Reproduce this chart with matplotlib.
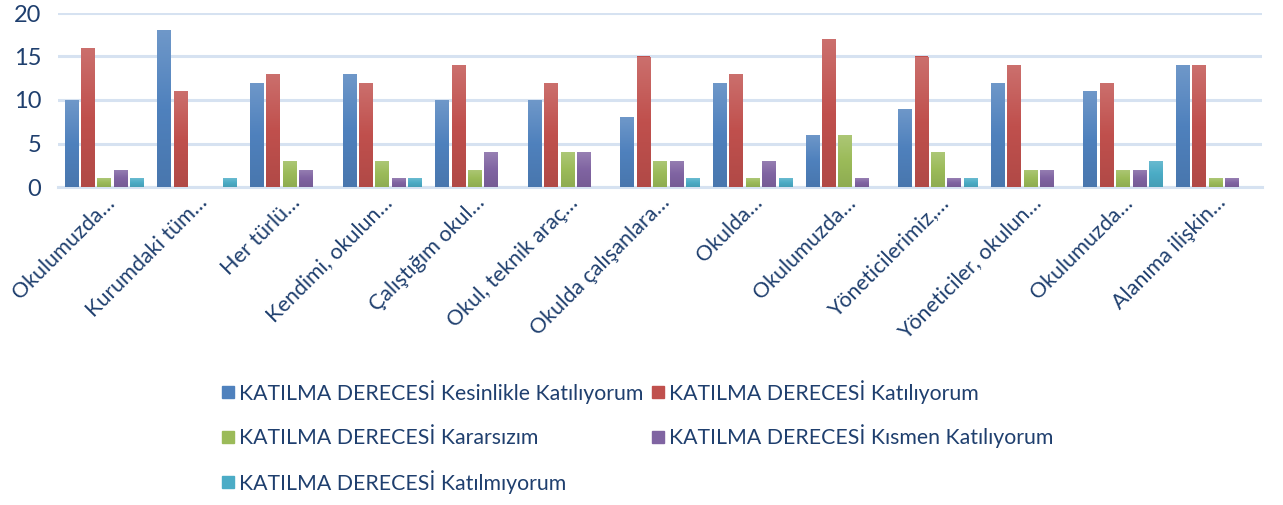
import matplotlib
matplotlib.use("Agg")
import matplotlib.pyplot as plt
from matplotlib.patches import Rectangle
from matplotlib.colors import LinearSegmentedColormap, to_rgb
import numpy as np

categories = ["Okulumuzda…", "Kurumdaki tüm…", "Her türlü…", "Kendimi, okulun…",
              "Çalıştığım okul…", "Okul, teknik araç…", "Okulda çalışanlara…", "Okulda…",
              "Okulumuzda…", "Yöneticilerimiz,…", "Yöneticiler, okulun…", "Okulumuzda…",
              "Alanıma ilişkin…"]
series_names = ["KATILMA DERECESİ Kesinlikle Katılıyorum", "KATILMA DERECESİ Katılıyorum",
                "KATILMA DERECESİ Kararsızım", "KATILMA DERECESİ Kısmen Katılıyorum",
                "KATILMA DERECESİ Katılmıyorum"]
kesinlikle = [10, 18, 12, 13, 10, 10, 8, 12, 6, 9, 12, 11, 14]
katiliyorum = [16, 11, 13, 12, 14, 12, 15, 13, 17, 15, 14, 12, 14]
kararsizim = [1, 0, 3, 3, 2, 4, 3, 1, 6, 4, 2, 2, 1]
kismen = [2, 0, 2, 1, 4, 4, 3, 3, 1, 1, 2, 2, 1]
katilmiyorum = [1, 1, 0, 1, 0, 0, 1, 1, 0, 1, 0, 3, 0]
yticks = [0, 5, 10, 15, 20]

colors = ["#4F81BD", "#C0504D", "#9BBB59", "#8064A2", "#4BACC6"]
text_color = "#1F3F6E"
plt.rcParams['font.family'] = ['Lato', 'DejaVu Sans']


def shade(c, f):
    r = np.array(to_rgb(c))
    if f >= 0:
        return tuple(r + (1 - r) * f)
    return tuple(r * (1 + f))


W, H = 1283, 505
fig = plt.figure(figsize=(W / 100, H / 100), dpi=100)
ax = fig.add_axes([58 / W, 1 - 187 / H, 1204 / W, 174 / H])

data = [kesinlikle, katiliyorum, kararsizim, kismen, katilmiyorum]
x = np.arange(len(categories))
pitch = 0.177
width = 0.148
grad = np.linspace(0, 1, 100).reshape(-1, 1)
for i, (vals, c, name) in enumerate(zip(data, colors, series_names)):
    bars = ax.bar(x + (i - 2) * pitch, vals, width, color=c, label=name, zorder=3)
    cmap = LinearSegmentedColormap.from_list(
        "g%d" % i, [shade(c, -0.08), c, shade(c, 0.18)])
    for rect in bars:
        h = rect.get_height()
        if h <= 0:
            continue
        x0 = rect.get_x()
        im = ax.imshow(grad, extent=[x0, x0 + rect.get_width(), 0, h], origin="lower",
                       aspect="auto", cmap=cmap, zorder=3.5, interpolation="bilinear")
        im.set_clip_path(rect)

ax.set_xlim(-0.5, len(categories) - 0.5)
ax.set_ylim(0, 20)
ax.set_yticks(yticks)
ax.set_yticklabels([str(t) for t in yticks], fontsize=17, color=text_color)
ax.yaxis.grid(True, color="#D6E2F1", linewidth=2.2, zorder=0)
ax.set_axisbelow(True)
for s in ["top", "right", "left"]:
    ax.spines[s].set_visible(False)
ax.spines["bottom"].set_color("#D6E2F1")
ax.spines["bottom"].set_linewidth(2.2)
ax.tick_params(axis="y", length=0, pad=12)
ax.tick_params(axis="x", length=0, pad=4)
ax.set_xticks(x)
ax.set_xticklabels(categories, rotation=45, ha="right", rotation_mode="anchor",
                   fontsize=15.5, color=text_color)

# legend laid out in rows of two, columns aligned
col_x = [222, 652]
row_y = [392, 437, 482]
sq = 12
for i, (c, name) in enumerate(zip(colors, series_names)):
    r, k = divmod(i, 2)
    cx, cy = col_x[k], row_y[r]
    fig.add_artist(Rectangle((cx / W, 1 - (cy + sq / 2) / H), sq / W, sq / H,
                             transform=fig.transFigure, color=c))
    fig.text((cx + sq + 5) / W, 1 - (cy + 7.5) / H, name, fontsize=15.3,
             color=text_color, va="baseline", ha="left")

fig.savefig("out.png", dpi=100)
